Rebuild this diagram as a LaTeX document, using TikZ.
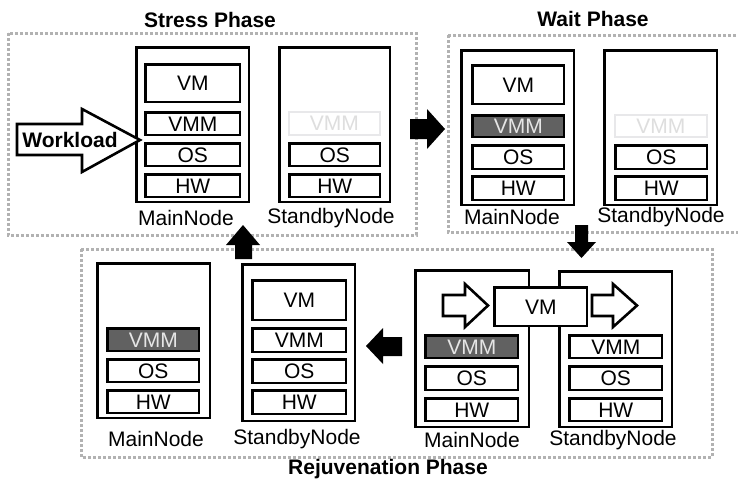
\documentclass[tikz,border=0pt]{standalone}
\usepackage{fontspec}
\setmainfont{Liberation Sans}
\begin{document}
\begin{tikzpicture}[x=1pt,y=-1pt,
  phasebox/.style={draw=black!30, line width=3pt, dash pattern=on 3pt off 2pt},
  hostbox/.style={draw=black, line width=2.6pt, fill=white, inner sep=0pt},
  layer/.style={draw=black, line width=2.6pt, fill=white, inner sep=0pt, font=\fontsize{21}{24}\selectfont},
  darklayer/.style={layer, fill=black!62, text=black!10},
  ghostlayer/.style={layer, draw=blue!8!black!9, line width=1.8pt, text=black!13},
  lbl/.style={font=\fontsize{21}{24}\selectfont, inner sep=0pt},
  title/.style={font=\bfseries\fontsize{21}{24}\selectfont, inner sep=0pt},
  blockarrow/.style={fill=black},
  hollowarrow/.style={draw=black, line width=2.6pt, fill=white, line join=miter}
]
\newcommand{\bx}[7]{\node[#1, minimum width={(#4-#2-2.4)*1pt}, minimum height={(#5-#3-2.4)*1pt}, anchor=north west] (#6) at (#2+1.2,#3+1.2) {#7};}
\useasboundingbox (0,0) rectangle (738,482);
\clip (0,0) rectangle (738,482);
% phase frames
\draw[phasebox] (8,33) rectangle (416,235);
\draw[phasebox] (448,35) rectangle (760,232);
\draw[phasebox] (81,249) rectangle (712,457);
% titles
\node[title] (tstress) at (210,20) {Stress Phase};
\node[title] (twait) at (593,19) {Wait Phase};
\node[title] (trejuv) at (388,469) {Rejuvenation Phase};
% ---- Stress phase
\bx{hostbox}{134}{45}{249}{202}{smain}{}
\bx{layer}{143}{62}{240}{102}{smvm}{VM}
\bx{layer}{143}{110}{240}{135}{smvmm}{VMM}
\bx{layer}{143}{141}{240}{166}{smos}{OS}
\bx{layer}{143}{172}{240}{197}{smhw}{HW}
\bx{hostbox}{277}{45}{390}{202}{sstb}{}
\bx{ghostlayer}{287}{110}{380}{135}{ssvmm}{VMM}
\bx{layer}{287}{141}{380}{166}{ssos}{OS}
\bx{layer}{287}{172}{380}{197}{sshw}{HW}
\node[lbl] (smlbl) at (186,218) {MainNode};
\node[lbl] (sslbl) at (331,218) {StandbyNode};
% ---- Wait phase
\bx{hostbox}{459}{48}{574}{205}{wmain}{}
\bx{layer}{470}{63}{564}{104}{wmvm}{VM}
\bx{darklayer}{470}{113}{564}{137}{wmvmm}{VMM}
\bx{layer}{470}{143}{564}{169}{wmos}{OS}
\bx{layer}{470}{174}{564}{200}{wmhw}{HW}
\bx{hostbox}{602}{48}{717}{205}{wstb}{}
\bx{ghostlayer}{613}{113}{707}{137}{wsvmm}{VMM}
\bx{layer}{613}{143}{707}{169}{wsos}{OS}
\bx{layer}{613}{174}{707}{200}{wshw}{HW}
\node[lbl] (wmlbl) at (512,217) {MainNode};
\node[lbl] (wslbl) at (661,217) {StandbyNode};
% ---- Rejuvenation phase, left pair
\bx{hostbox}{95}{261}{210}{418}{rlmain}{}
\bx{darklayer}{105}{326}{199}{351}{rlmvmm}{VMM}
\bx{layer}{105}{357}{199}{382}{rlmos}{OS}
\bx{layer}{105}{388}{199}{413}{rlmhw}{HW}
\bx{hostbox}{240}{262}{355}{421}{rlstb}{}
\bx{layer}{250}{278}{346}{320}{rlsvm}{VM}
\bx{layer}{250}{326}{346}{352}{rlsvmm}{VMM}
\bx{layer}{250}{357}{346}{383}{rlsos}{OS}
\bx{layer}{250}{388}{346}{414}{rlshw}{HW}
\node[lbl] (rlmlbl) at (156,439) {MainNode};
\node[lbl] (rlslbl) at (297,439) {StandbyNode};
% ---- Rejuvenation phase, right pair
\bx{hostbox}{413}{268}{529}{427}{rrmain}{}
\bx{darklayer}{423}{333}{518}{358}{rrmvmm}{VMM}
\bx{layer}{423}{364}{518}{390}{rrmos}{OS}
\bx{layer}{423}{396}{518}{421}{rrmhw}{HW}
\bx{hostbox}{557}{269}{672}{427}{rrstb}{}
\bx{layer}{567}{333}{662}{358}{rrsvmm}{VMM}
\bx{layer}{567}{364}{662}{390}{rrsos}{OS}
\bx{layer}{567}{396}{662}{421}{rrshw}{HW}
\draw[hollowarrow] (443,295) -- (465,295) -- (465,284) -- (488,305.5) -- (465,327) -- (465,316) -- (443,316) -- cycle;
\draw[hollowarrow] (592,295) -- (613,295) -- (613,284) -- (637,305.5) -- (613,327) -- (613,316) -- (592,316) -- cycle;
\bx{layer}{492}{285}{587}{326}{rrvm}{VM}
\node[lbl] (rrmlbl) at (472,440) {MainNode};
\node[lbl] (rrslbl) at (613,440) {StandbyNode};
% ---- phase transition arrows
\fill[blockarrow] (410,119) -- (427,119) -- (427,109) -- (445,129) -- (427,149) -- (427,139) -- (410,139) -- cycle;
\fill[blockarrow] (575,225) -- (588,225) -- (588,242) -- (596,242) -- (581.5,258) -- (567,242) -- (575,242) -- cycle;
\fill[blockarrow] (402,337) -- (383,337) -- (383,328) -- (366,346) -- (383,364) -- (383,356) -- (402,356) -- cycle;
\fill[blockarrow] (235,259) -- (235,245) -- (226,245) -- (243,225) -- (260,245) -- (252,245) -- (252,259) -- cycle;
% ---- workload arrow
\draw[hollowarrow] (17,124) -- (82,124) -- (82,109) -- (140,140) -- (82,172) -- (82,155) -- (17,155) -- cycle;
\node[title] (wl) at (70,139.5) {Workload};
\end{tikzpicture}
\end{document}
